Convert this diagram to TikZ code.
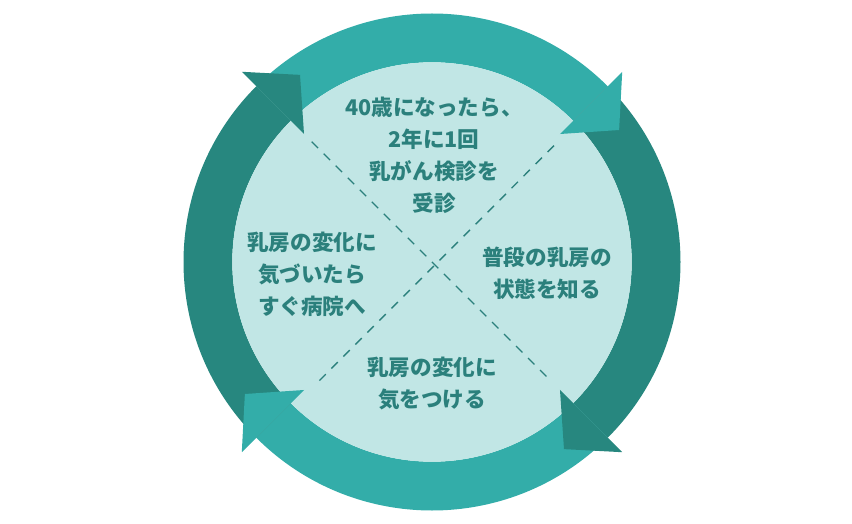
\documentclass[tikz,border=0pt]{standalone}
\usepackage{fontspec}
\setmainfont{Noto Sans CJK JP}
\usetikzlibrary{calc}
\definecolor{ringlight}{HTML}{33ADA9}
\definecolor{ringdark}{HTML}{27877F}
\definecolor{innerfill}{HTML}{C1E6E5}
\definecolor{textteal}{HTML}{2B807C}
\tikzset{
  bandlight/.style={fill=ringlight, draw=none},
  banddark/.style={fill=ringdark, draw=none},
  divider/.style={draw=textteal, line width=1.4pt, dash pattern=on 9pt off 8pt},
  label/.style={text=textteal, font=\fontsize{21.6}{32}\selectfont\bfseries, align=center, inner sep=0pt}
}
\newcommand{\myband}[3]{% style, start, end
  \fill[#1] (#2:248.5pt) arc[start angle=#2, end angle=#3, radius=248.5pt]
     -- (#3:199.7pt) arc[start angle=#3, end angle=#2, radius=199.7pt] -- cycle;}
\newcommand{\myhead}[2]{% style, angle
  \fill[#1] (#2:269pt) -- ({#2-9.8}:229pt) -- (#2:181pt) -- cycle;}
\begin{document}
\begin{tikzpicture}[x=1pt,y=1pt]
\useasboundingbox (0,0) rectangle (852,523);
\begin{scope}[shift={(432,261)}]
  \coordinate (c) at (0,0);
  % ring bands
  \myband{bandlight}{135}{45}
  \myband{banddark}{45}{-45}
  \myband{bandlight}{-45}{-135}
  \myband{banddark}{-135}{-225}
  % inner disc
  \fill[innerfill] (c) circle[radius=199.7pt];
  % arrowheads
  \myhead{bandlight}{45}
  \myhead{banddark}{-45}
  \myhead{bandlight}{-135}
  \myhead{banddark}{135}
  % dividers
  \coordinate (d1a) at (-120.3,120.3);
  \coordinate (d1b) at (117.3,-117.3);
  \coordinate (d2a) at (122,116.3);
  \coordinate (d2b) at (-115.3,-121.3);
  \draw[divider] (d1a) -- (d1b);
  \draw[divider] (d2a) -- (d2b);
  % labels
  \node[label] (top) at (2,107) {40歳になったら、\\2年に1回\\乳がん検診を\\受診};
  \node[label] (right) at (115,-11) {普段の乳房の\\状態を知る};
  \node[label] (bottom) at (0,-122) {乳房の変化に\\気をつける};
  \node[label] (left) at (-120,-12) {乳房の変化に\\気づいたら\\すぐ病院へ};
\end{scope}
\end{tikzpicture}
\end{document}
